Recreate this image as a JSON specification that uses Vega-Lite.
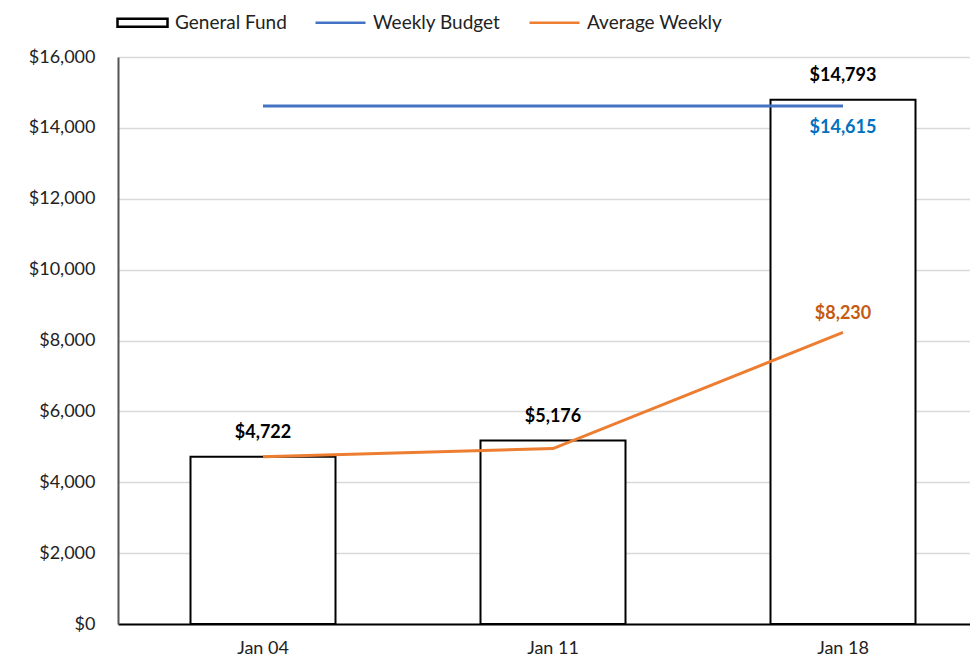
{
  "$schema": "https://vega.github.io/schema/vega-lite/v6.json",
  "width": 852,
  "height": 567,
  "autosize": {"type": "none"},
  "padding": {"left": 118, "top": 57, "right": 0, "bottom": 33},
  "background": "white",
  "config": {
    "view": {"stroke": null},
    "font": "Lato"
  },
  "data": {
    "values": [
      {"date": "Jan 04", "series": "General Fund", "value": 4722},
      {"date": "Jan 11", "series": "General Fund", "value": 5176},
      {"date": "Jan 18", "series": "General Fund", "value": 14793},
      {"date": "Jan 04", "series": "Weekly Budget", "value": 14615},
      {"date": "Jan 11", "series": "Weekly Budget", "value": 14615},
      {"date": "Jan 18", "series": "Weekly Budget", "value": 14615},
      {"date": "Jan 04", "series": "Average Weekly", "value": 4722},
      {"date": "Jan 11", "series": "Average Weekly", "value": 4949},
      {"date": "Jan 18", "series": "Average Weekly", "value": 8230}
    ]
  },
  "encoding": {
    "x": {
      "field": "date",
      "type": "nominal",
      "scale": {"range": [0, 870], "paddingInner": 0.5, "paddingOuter": 0.25},
      "axis": {
        "title": null,
        "labelAngle": 0,
        "ticks": false,
        "domainColor": "black",
        "domainWidth": 2,
        "labelFontSize": 18,
        "labelColor": "#222",
        "labelPadding": 15,
        "grid": false
      }
    },
    "y": {
      "field": "value",
      "type": "quantitative",
      "scale": {"domain": [0, 16000], "nice": false},
      "axis": {
        "title": null,
        "values": [0, 2000, 4000, 6000, 8000, 10000, 12000, 14000, 16000],
        "format": "$,.0f",
        "ticks": false,
        "domainColor": "#555",
        "domainWidth": 2,
        "gridColor": "#D9D9D9",
        "gridWidth": 1.5,
        "labelFontSize": 18,
        "labelColor": "#222",
        "labelPadding": 23
      }
    }
  },
  "layer": [
    {
      "transform": [{"filter": "datum.series === 'General Fund'"}],
      "mark": {"type": "bar", "fill": "white", "stroke": "black", "strokeWidth": 2, "width": {"band": 1}}
    },
    {
      "transform": [{"filter": "datum.series === 'Weekly Budget'"}],
      "mark": {"type": "line", "color": "#4472C4", "strokeWidth": 3}
    },
    {
      "transform": [{"filter": "datum.series === 'Average Weekly'"}],
      "mark": {"type": "line", "color": "#ED7D31", "strokeWidth": 3}
    },
    {
      "transform": [{"filter": "datum.series === 'General Fund'"}],
      "mark": {"type": "text", "dy": -24, "fontSize": 18, "fontWeight": "bold", "color": "black"},
      "encoding": {"text": {"field": "value", "type": "quantitative", "format": "$,.0f"}}
    },
    {
      "transform": [{"filter": "datum.series === 'Weekly Budget' && datum.date === 'Jan 18'"}],
      "mark": {"type": "text", "dy": 22, "fontSize": 18, "fontWeight": "bold", "color": "#0070C0"},
      "encoding": {"text": {"field": "value", "type": "quantitative", "format": "$,.0f"}}
    },
    {
      "transform": [{"filter": "datum.series === 'Average Weekly' && datum.date === 'Jan 18'"}],
      "mark": {"type": "text", "dy": -18, "fontSize": 18, "fontWeight": "bold", "color": "#C55A11"},
      "encoding": {"text": {"field": "value", "type": "quantitative", "format": "$,.0f"}}
    },
    {
      "transform": [{"filter": "datum.date === 'Jan 04'"}],
      "mark": {"type": "point", "filled": false, "opacity": 0},
      "encoding": {
        "color": {
          "field": "series",
          "type": "nominal",
          "scale": {"domain": ["General Fund", "Weekly Budget", "Average Weekly"], "range": ["black", "#4472C4", "#ED7D31"]},
          "legend": {
            "orient": "none",
            "legendX": -2,
            "legendY": -61,
            "direction": "horizontal",
            "title": null,
            "symbolSize": 2500,
            "symbolOpacity": 1,
            "symbolStrokeWidth": 2.5,
            "symbolFillColor": "white",
            "labelFontSize": 19,
            "labelColor": "#222",
            "labelOffset": 6,
            "columnPadding": 23
          }
        },
        "shape": {
          "field": "series",
          "type": "nominal",
          "scale": {"domain": ["General Fund", "Weekly Budget", "Average Weekly"], "range": ["M-1,-0.16H1V0.16H-1Z", "stroke", "stroke"]}
        }
      }
    }
  ]
}
